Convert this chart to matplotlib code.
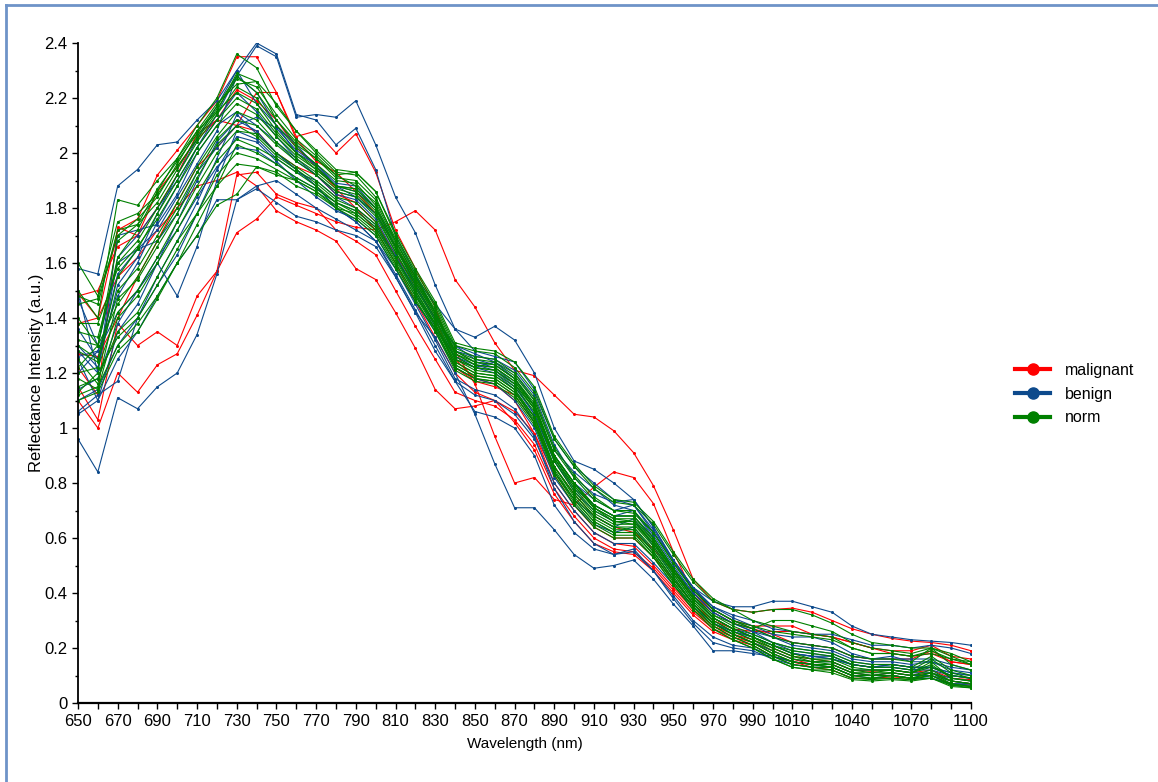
import matplotlib
matplotlib.use("Agg")
import matplotlib.pyplot as plt
from matplotlib.lines import Line2D

plt.rcParams['font.family'] = ['Liberation Sans', 'DejaVu Sans']

wavelength = [650, 660, 670, 680, 690, 700, 710, 720, 730, 740,
              750, 760, 770, 780, 790, 800, 810, 820, 830, 840,
              850, 860, 870, 880, 890, 900, 910, 920, 930, 940,
              950, 960, 970, 980, 990, 1000, 1010, 1020, 1030, 1040,
              1050, 1060, 1070, 1080, 1090, 1100]
x_labels = [650, 670, 690, 710, 730, 750, 770, 790, 810, 830, 850, 870,
            890, 910, 930, 950, 970, 990, 1010, 1040, 1070, 1100]
y_ticks = [0, 0.2, 0.4, 0.6, 0.8, 1.0, 1.2, 1.4, 1.6, 1.8, 2.0, 2.2, 2.4]

malignant = [
    [1.49, 1.40, 1.72, 1.76, 1.92, 2.01, 2.10, 2.19, 2.35, 2.35,
     2.22, 2.06, 2.08, 2.00, 2.07, 1.93, 1.72, 1.58, 1.44, 1.25,
     1.18, 1.16, 1.10, 0.98, 0.80, 0.70, 0.62, 0.58, 0.57, 0.50,
     0.42, 0.34, 0.28, 0.25, 0.23, 0.20, 0.17, 0.16, 0.15, 0.12,
     0.115, 0.12, 0.11, 0.12, 0.09, 0.085],
    [1.10, 1.00, 1.20, 1.13, 1.23, 1.27, 1.41, 1.57, 1.71, 1.76,
     1.84, 1.81, 1.78, 1.75, 1.73, 1.72, 1.75, 1.79, 1.72, 1.54,
     1.44, 1.31, 1.21, 1.19, 1.12, 1.05, 1.04, 0.99, 0.91, 0.79,
     0.63, 0.45, 0.37, 0.34, 0.33, 0.34, 0.345, 0.33, 0.30, 0.27,
     0.25, 0.235, 0.225, 0.22, 0.21, 0.19],
    [1.15, 1.03, 1.38, 1.30, 1.35, 1.30, 1.48, 1.57, 1.92, 1.93,
     1.85, 1.82, 1.80, 1.72, 1.68, 1.63, 1.50, 1.37, 1.25, 1.13,
     1.10, 1.08, 1.03, 0.94, 0.78, 0.68, 0.60, 0.56, 0.55, 0.49,
     0.41, 0.33, 0.27, 0.24, 0.22, 0.19, 0.16, 0.14, 0.14, 0.11,
     0.10, 0.11, 0.10, 0.11, 0.08, 0.07],
    [1.38, 1.40, 1.55, 1.62, 1.72, 1.80, 1.88, 1.90, 1.93, 1.88,
     1.79, 1.75, 1.72, 1.68, 1.58, 1.54, 1.42, 1.29, 1.14, 1.07,
     1.08, 1.10, 1.06, 0.98, 0.83, 0.72, 0.64, 0.60, 0.60, 0.53,
     0.45, 0.36, 0.30, 0.27, 0.26, 0.26, 0.26, 0.25, 0.24, 0.22,
     0.20, 0.18, 0.17, 0.18, 0.15, 0.14],
    [1.48, 1.50, 1.66, 1.70, 1.86, 1.95, 2.05, 2.12, 2.10, 2.22,
     2.22, 2.05, 1.97, 1.93, 1.86, 1.78, 1.66, 1.55, 1.42, 1.28,
     1.16, 0.97, 0.80, 0.82, 0.74, 0.72, 0.785, 0.84, 0.82, 0.725,
     0.55, 0.40, 0.34, 0.30, 0.28, 0.28, 0.28, 0.25, 0.24, 0.22,
     0.20, 0.19, 0.19, 0.21, 0.17, 0.16],
    [1.22, 1.12, 1.73, 1.70, 1.80, 1.92, 2.07, 2.12, 2.23, 2.19,
     2.12, 2.02, 1.95, 1.87, 1.80, 1.72, 1.60, 1.46, 1.33, 1.20,
     1.13, 1.10, 1.02, 0.92, 0.76, 0.66, 0.58, 0.55, 0.54, 0.48,
     0.40, 0.32, 0.26, 0.23, 0.21, 0.17, 0.15, 0.13, 0.12, 0.09,
     0.09, 0.095, 0.09, 0.10, 0.07, 0.065],
    [1.27, 1.26, 1.40, 1.55, 1.68, 1.82, 1.95, 2.02, 2.10, 2.08,
     2.00, 1.95, 1.92, 1.85, 1.82, 1.75, 1.63, 1.52, 1.40, 1.22,
     1.17, 1.15, 1.12, 1.02, 0.86, 0.76, 0.68, 0.64, 0.62, 0.56,
     0.48, 0.39, 0.33, 0.29, 0.27, 0.25, 0.22, 0.21, 0.20, 0.17,
     0.16, 0.16, 0.16, 0.19, 0.15, 0.14],
]

benign = [
    [1.30, 1.22, 1.52, 1.62, 1.78, 1.92, 2.05, 2.17, 2.30, 2.40,
     2.36, 2.14, 2.12, 2.03, 2.09, 1.94, 1.70, 1.56, 1.42, 1.28,
     1.24, 1.22, 1.16, 1.05, 0.88, 0.77, 0.70, 0.66, 0.66, 0.58,
     0.49, 0.40, 0.33, 0.29, 0.26, 0.22, 0.19, 0.18, 0.17, 0.14,
     0.13, 0.13, 0.12, 0.13, 0.10, 0.09],
    [1.26, 1.28, 1.48, 1.60, 1.75, 1.88, 2.02, 2.14, 2.28, 2.39,
     2.35, 2.13, 2.14, 2.13, 2.19, 2.03, 1.84, 1.71, 1.52, 1.36,
     1.33, 1.37, 1.32, 1.20, 1.00, 0.88, 0.85, 0.80, 0.74, 0.64,
     0.52, 0.42, 0.37, 0.35, 0.35, 0.37, 0.37, 0.35, 0.33, 0.28,
     0.25, 0.24, 0.23, 0.225, 0.22, 0.21],
    [1.58, 1.56, 1.88, 1.94, 2.03, 2.04, 2.12, 2.19, 2.30, 2.18,
     2.10, 2.00, 1.96, 1.88, 1.84, 1.78, 1.66, 1.52, 1.40, 1.30,
     1.27, 1.24, 1.18, 1.08, 0.90, 0.80, 0.74, 0.70, 0.72, 0.62,
     0.52, 0.42, 0.35, 0.32, 0.30, 0.27, 0.26, 0.25, 0.25, 0.23,
     0.21, 0.21, 0.20, 0.21, 0.20, 0.18],
    [0.96, 0.84, 1.11, 1.07, 1.15, 1.20, 1.34, 1.56, 1.83, 1.87,
     1.82, 1.77, 1.75, 1.72, 1.70, 1.66, 1.55, 1.42, 1.28, 1.17,
     1.12, 1.10, 1.05, 0.96, 0.80, 0.70, 0.62, 0.58, 0.58, 0.51,
     0.43, 0.35, 0.29, 0.26, 0.24, 0.21, 0.18, 0.17, 0.16, 0.14,
     0.13, 0.14, 0.13, 0.13, 0.11, 0.10],
    [1.10, 1.14, 1.30, 1.40, 1.55, 1.68, 1.82, 1.98, 2.14, 2.07,
     2.00, 1.94, 1.88, 1.80, 1.75, 1.68, 1.55, 1.42, 1.33, 1.20,
     1.05, 0.87, 0.71, 0.71, 0.63, 0.54, 0.49, 0.50, 0.52, 0.45,
     0.36, 0.28, 0.19, 0.19, 0.18, 0.17, 0.15, 0.14, 0.14, 0.11,
     0.10, 0.11, 0.10, 0.10, 0.08, 0.07],
    [1.20, 1.28, 1.42, 1.50, 1.60, 1.48, 1.66, 1.90, 2.08, 2.05,
     1.98, 1.93, 1.90, 1.84, 1.80, 1.74, 1.62, 1.49, 1.36, 1.26,
     1.22, 1.20, 1.14, 1.02, 0.84, 0.74, 0.68, 0.64, 0.67, 0.57,
     0.46, 0.36, 0.29, 0.25, 0.22, 0.19, 0.16, 0.15, 0.15, 0.12,
     0.12, 0.12, 0.11, 0.11, 0.09, 0.08],
    [1.05, 1.10, 1.25, 1.35, 1.48, 1.60, 1.70, 1.83, 1.83, 1.88,
     1.90, 1.85, 1.80, 1.76, 1.72, 1.68, 1.58, 1.46, 1.35, 1.22,
     1.18, 1.16, 1.10, 1.00, 0.82, 0.72, 0.65, 0.62, 0.64, 0.55,
     0.45, 0.36, 0.29, 0.26, 0.24, 0.21, 0.18, 0.17, 0.17, 0.14,
     0.13, 0.14, 0.13, 0.13, 0.10, 0.09],
    [1.28, 1.20, 1.62, 1.70, 1.80, 1.90, 2.02, 2.12, 2.22, 2.15,
     2.06, 1.98, 1.92, 1.85, 1.83, 1.76, 1.63, 1.50, 1.37, 1.26,
     1.23, 1.21, 1.15, 1.05, 0.88, 0.78, 0.72, 0.68, 0.70, 0.60,
     0.49, 0.39, 0.31, 0.27, 0.24, 0.21, 0.18, 0.17, 0.16, 0.14,
     0.13, 0.13, 0.12, 0.12, 0.10, 0.09],
    [1.14, 1.18, 1.38, 1.50, 1.62, 1.72, 1.84, 1.95, 2.02, 2.01,
     1.96, 1.91, 1.87, 1.82, 1.79, 1.73, 1.62, 1.51, 1.40, 1.30,
     1.25, 1.23, 1.18, 1.08, 0.90, 0.80, 0.72, 0.68, 0.68, 0.59,
     0.48, 0.38, 0.31, 0.27, 0.25, 0.22, 0.20, 0.19, 0.18, 0.15,
     0.14, 0.14, 0.13, 0.13, 0.11, 0.10],
    [1.47, 1.30, 1.60, 1.65, 1.72, 1.84, 1.96, 2.08, 2.28, 2.22,
     2.10, 2.03, 1.95, 1.88, 1.86, 1.80, 1.68, 1.55, 1.45, 1.36,
     1.28, 1.26, 1.24, 1.14, 0.96, 0.86, 0.80, 0.74, 0.72, 0.63,
     0.52, 0.41, 0.35, 0.31, 0.28, 0.25, 0.24, 0.24, 0.22, 0.18,
     0.16, 0.16, 0.16, 0.16, 0.14, 0.12],
    [1.06, 1.12, 1.17, 1.40, 1.52, 1.63, 1.78, 1.94, 2.06, 2.04,
     1.97, 1.90, 1.84, 1.79, 1.76, 1.70, 1.58, 1.45, 1.32, 1.18,
     1.14, 1.12, 1.07, 0.97, 0.78, 0.66, 0.58, 0.54, 0.55, 0.48,
     0.39, 0.30, 0.24, 0.21, 0.20, 0.17, 0.15, 0.14, 0.13, 0.10,
     0.10, 0.10, 0.09, 0.09, 0.07, 0.07],
    [1.50, 1.20, 1.70, 1.72, 1.74, 1.85, 2.00, 2.10, 2.15, 2.10,
     2.04, 1.97, 1.92, 1.86, 1.84, 1.78, 1.66, 1.53, 1.42, 1.25,
     1.22, 1.24, 1.20, 1.10, 0.92, 0.84, 0.78, 0.72, 0.70, 0.61,
     0.50, 0.40, 0.33, 0.29, 0.26, 0.24, 0.22, 0.21, 0.20, 0.17,
     0.16, 0.17, 0.15, 0.15, 0.13, 0.12],
    [1.25, 1.10, 1.35, 1.45, 1.60, 1.75, 1.90, 2.04, 2.12, 2.08,
     2.00, 1.94, 1.88, 1.80, 1.75, 1.68, 1.56, 1.43, 1.30, 1.17,
     1.06, 1.04, 1.00, 0.90, 0.72, 0.62, 0.56, 0.54, 0.56, 0.48,
     0.38, 0.29, 0.22, 0.20, 0.19, 0.16, 0.14, 0.13, 0.13, 0.10,
     0.09, 0.10, 0.09, 0.09, 0.07, 0.065],
    [1.36, 1.25, 1.56, 1.65, 1.68, 1.78, 1.93, 2.02, 2.10, 2.13,
     2.09, 2.01, 1.96, 1.89, 1.88, 1.80, 1.66, 1.52, 1.39, 1.28,
     1.26, 1.25, 1.21, 1.12, 0.94, 0.82, 0.76, 0.73, 0.74, 0.64,
     0.52, 0.42, 0.34, 0.30, 0.27, 0.24, 0.21, 0.20, 0.19, 0.16,
     0.15, 0.15, 0.14, 0.15, 0.12, 0.11],
]

norm = [
    [1.32, 1.30, 1.62, 1.72, 1.86, 1.98, 2.10, 2.20, 2.36, 2.31,
     2.17, 2.08, 2.00, 1.93, 1.92, 1.84, 1.68, 1.55, 1.42, 1.28,
     1.25, 1.24, 1.19, 1.10, 0.92, 0.82, 0.74, 0.70, 0.70, 0.62,
     0.51, 0.41, 0.34, 0.30, 0.28, 0.26, 0.25, 0.24, 0.23, 0.20,
     0.18, 0.18, 0.17, 0.19, 0.16, 0.15],
    [1.60, 1.48, 1.75, 1.78, 1.85, 1.95, 2.05, 2.15, 2.29, 2.26,
     2.12, 2.03, 1.98, 1.92, 1.93, 1.86, 1.70, 1.57, 1.45, 1.30,
     1.28, 1.27, 1.22, 1.13, 0.96, 0.86, 0.78, 0.73, 0.72, 0.65,
     0.54, 0.44, 0.37, 0.34, 0.33, 0.34, 0.34, 0.32, 0.29, 0.25,
     0.22, 0.21, 0.20, 0.20, 0.18, 0.15],
    [1.50, 1.40, 1.83, 1.81, 1.90, 1.98, 2.08, 2.15, 2.22, 2.18,
     2.08, 2.00, 1.95, 1.88, 1.87, 1.80, 1.66, 1.54, 1.42, 1.27,
     1.23, 1.22, 1.17, 1.08, 0.90, 0.80, 0.72, 0.68, 0.68, 0.60,
     0.49, 0.39, 0.32, 0.29, 0.27, 0.30, 0.30, 0.28, 0.26, 0.22,
     0.20, 0.19, 0.18, 0.20, 0.17, 0.14],
    [1.15, 1.18, 1.35, 1.42, 1.55, 1.68, 1.78, 1.88, 1.96, 1.95,
     1.92, 1.90, 1.86, 1.80, 1.78, 1.72, 1.60, 1.48, 1.38, 1.24,
     1.20, 1.19, 1.14, 1.04, 0.86, 0.76, 0.68, 0.64, 0.64, 0.56,
     0.46, 0.36, 0.29, 0.25, 0.22, 0.18, 0.15, 0.14, 0.13, 0.10,
     0.10, 0.10, 0.09, 0.10, 0.07, 0.06],
    [1.12, 1.15, 1.30, 1.38, 1.48, 1.60, 1.70, 1.81, 1.85, 1.95,
     1.93, 1.88, 1.85, 1.80, 1.76, 1.70, 1.58, 1.46, 1.36, 1.22,
     1.18, 1.17, 1.12, 1.02, 0.84, 0.74, 0.66, 0.62, 0.62, 0.54,
     0.44, 0.35, 0.28, 0.24, 0.21, 0.17, 0.14, 0.13, 0.12, 0.09,
     0.09, 0.09, 0.085, 0.09, 0.065, 0.055],
    [1.28, 1.24, 1.50, 1.58, 1.70, 1.82, 1.95, 2.06, 2.15, 2.12,
     2.04, 1.98, 1.93, 1.87, 1.85, 1.78, 1.64, 1.52, 1.40, 1.25,
     1.21, 1.20, 1.15, 1.06, 0.88, 0.77, 0.69, 0.65, 0.65, 0.57,
     0.47, 0.37, 0.30, 0.26, 0.23, 0.19, 0.16, 0.15, 0.14, 0.11,
     0.11, 0.11, 0.10, 0.11, 0.08, 0.07],
    [1.40, 1.30, 1.68, 1.74, 1.82, 1.94, 2.06, 2.16, 2.27, 2.24,
     2.14, 2.05, 1.99, 1.92, 1.88, 1.82, 1.68, 1.55, 1.43, 1.28,
     1.24, 1.23, 1.18, 1.09, 0.90, 0.80, 0.71, 0.67, 0.66, 0.59,
     0.48, 0.38, 0.31, 0.27, 0.24, 0.20, 0.17, 0.16, 0.15, 0.12,
     0.12, 0.12, 0.11, 0.14, 0.09, 0.08],
    [1.20, 1.22, 1.42, 1.50, 1.62, 1.75, 1.88, 2.00, 2.08, 2.07,
     2.00, 1.95, 1.90, 1.84, 1.82, 1.75, 1.62, 1.50, 1.38, 1.24,
     1.20, 1.19, 1.14, 1.04, 0.86, 0.75, 0.67, 0.63, 0.63, 0.55,
     0.45, 0.36, 0.29, 0.25, 0.22, 0.18, 0.15, 0.14, 0.14, 0.11,
     0.10, 0.11, 0.10, 0.12, 0.08, 0.07],
    [1.30, 1.25, 1.55, 1.65, 1.78, 1.90, 2.02, 2.12, 2.20, 2.16,
     2.07, 2.00, 1.94, 1.88, 1.86, 1.79, 1.65, 1.53, 1.41, 1.27,
     1.23, 1.22, 1.17, 1.07, 0.89, 0.78, 0.70, 0.66, 0.66, 0.58,
     0.47, 0.37, 0.30, 0.26, 0.23, 0.20, 0.17, 0.15, 0.15, 0.12,
     0.11, 0.12, 0.11, 0.15, 0.09, 0.08],
    [1.18, 1.14, 1.40, 1.48, 1.60, 1.72, 1.85, 1.97, 2.05, 2.02,
     1.98, 1.93, 1.88, 1.82, 1.79, 1.73, 1.61, 1.49, 1.37, 1.23,
     1.19, 1.18, 1.13, 1.03, 0.85, 0.74, 0.66, 0.62, 0.62, 0.54,
     0.44, 0.35, 0.28, 0.24, 0.21, 0.17, 0.14, 0.13, 0.13, 0.10,
     0.09, 0.10, 0.09, 0.11, 0.07, 0.06],
    [1.45, 1.47, 1.70, 1.76, 1.84, 1.96, 2.08, 2.18, 2.25, 2.26,
     2.18, 2.08, 2.01, 1.94, 1.93, 1.86, 1.71, 1.58, 1.46, 1.31,
     1.29, 1.28, 1.24, 1.15, 0.97, 0.87, 0.79, 0.74, 0.73, 0.66,
     0.55, 0.45, 0.38, 0.34, 0.30, 0.28, 0.26, 0.25, 0.24, 0.20,
     0.18, 0.18, 0.17, 0.18, 0.16, 0.14],
    [1.22, 1.30, 1.45, 1.55, 1.68, 1.80, 1.93, 2.05, 2.12, 2.10,
     2.03, 1.97, 1.92, 1.86, 1.84, 1.77, 1.64, 1.51, 1.39, 1.25,
     1.22, 1.21, 1.16, 1.07, 0.89, 0.79, 0.71, 0.66, 0.65, 0.58,
     0.48, 0.38, 0.31, 0.27, 0.24, 0.21, 0.18, 0.16, 0.16, 0.13,
     0.12, 0.12, 0.11, 0.13, 0.10, 0.09],
    [1.13, 1.20, 1.33, 1.40, 1.52, 1.65, 1.78, 1.92, 2.00, 1.98,
     1.94, 1.90, 1.86, 1.81, 1.77, 1.71, 1.59, 1.47, 1.35, 1.21,
     1.17, 1.16, 1.11, 1.01, 0.83, 0.72, 0.64, 0.60, 0.60, 0.53,
     0.43, 0.34, 0.27, 0.23, 0.20, 0.16, 0.13, 0.12, 0.12, 0.09,
     0.085, 0.09, 0.085, 0.10, 0.065, 0.06],
    [1.35, 1.33, 1.60, 1.68, 1.80, 1.92, 2.04, 2.14, 2.24, 2.20,
     2.10, 2.02, 1.96, 1.90, 1.89, 1.81, 1.67, 1.54, 1.42, 1.27,
     1.24, 1.23, 1.18, 1.08, 0.90, 0.80, 0.72, 0.68, 0.68, 0.60,
     0.49, 0.39, 0.32, 0.28, 0.25, 0.22, 0.20, 0.19, 0.18, 0.15,
     0.14, 0.14, 0.13, 0.17, 0.12, 0.10],
    [1.25, 1.16, 1.47, 1.54, 1.66, 1.78, 1.91, 2.03, 2.10, 2.06,
     1.99, 1.94, 1.89, 1.83, 1.80, 1.74, 1.62, 1.50, 1.38, 1.23,
     1.19, 1.18, 1.13, 1.04, 0.86, 0.76, 0.68, 0.64, 0.63, 0.55,
     0.45, 0.36, 0.29, 0.25, 0.22, 0.18, 0.15, 0.14, 0.13, 0.10,
     0.10, 0.10, 0.09, 0.11, 0.08, 0.07],
    [1.48, 1.45, 1.72, 1.74, 1.87, 1.97, 2.07, 2.17, 2.28, 2.22,
     2.12, 2.04, 1.98, 1.91, 1.90, 1.83, 1.69, 1.56, 1.44, 1.29,
     1.26, 1.25, 1.20, 1.11, 0.93, 0.83, 0.75, 0.70, 0.69, 0.62,
     0.51, 0.41, 0.34, 0.30, 0.27, 0.24, 0.22, 0.21, 0.20, 0.17,
     0.16, 0.16, 0.15, 0.20, 0.14, 0.12],
    [1.10, 1.13, 1.28, 1.35, 1.47, 1.60, 1.74, 1.88, 2.03, 2.00,
     1.96, 1.91, 1.87, 1.82, 1.78, 1.72, 1.60, 1.48, 1.36, 1.22,
     1.18, 1.17, 1.12, 1.02, 0.84, 0.73, 0.65, 0.61, 0.61, 0.53,
     0.43, 0.34, 0.27, 0.23, 0.20, 0.16, 0.13, 0.12, 0.11, 0.085,
     0.08, 0.085, 0.08, 0.09, 0.06, 0.055],
    [1.38, 1.38, 1.58, 1.66, 1.76, 1.88, 2.00, 2.10, 2.18, 2.14,
     2.06, 1.99, 1.94, 1.88, 1.87, 1.80, 1.66, 1.53, 1.41, 1.26,
     1.22, 1.21, 1.16, 1.07, 0.89, 0.79, 0.71, 0.67, 0.67, 0.59,
     0.48, 0.38, 0.31, 0.27, 0.24, 0.21, 0.19, 0.18, 0.17, 0.14,
     0.13, 0.13, 0.12, 0.16, 0.11, 0.09],
]

group_names = ['malignant', 'benign', 'norm']
group_colors = ['#ff0000', '#0d4a8c', '#008000']

fig = plt.figure(figsize=(11.58, 7.82), dpi=100)
ax = fig.add_axes([78 / 1158, 1 - 703 / 782, (971 - 78) / 1158, (703 - 43) / 782])

for spectra, color in zip([malignant, benign, norm], group_colors):
    for spec in spectra:
        ax.plot(wavelength, spec, color=color, lw=0.8, marker='o', ms=2.2,
                mew=0, solid_joinstyle='round')

ax.set_xlim(650, 1100)
ax.set_ylim(0, 2.4)
ax.set_xticks(wavelength)
ax.set_xticklabels([str(w) if w in x_labels else '' for w in wavelength])
ax.set_yticks(y_ticks)
ax.set_yticklabels(['%g' % v for v in y_ticks])
ax.set_yticks([v / 10 for v in range(1, 24, 2)], minor=True)
ax.tick_params(axis='both', which='major', direction='out', length=4,
               width=1, labelsize=12, colors='black')
ax.tick_params(axis='x', pad=4)
ax.tick_params(axis='y', which='minor', direction='out', length=2.5, width=1)

for side in ['top', 'right']:
    ax.spines[side].set_visible(False)
ax.spines['left'].set_linewidth(1.3)
ax.spines['bottom'].set_linewidth(1.6)

ax.set_xlabel('Wavelength (nm)', fontsize=11, labelpad=6)
ax.set_ylabel('Reflectance Intensity (a.u.)', fontsize=12, labelpad=0)

handles = [Line2D([], [], color=c, lw=3, marker='o', ms=8) for c in group_colors]
fig.legend(handles, group_names, loc='center left',
           bbox_to_anchor=(1015 / 1158, 1 - 394 / 782), frameon=False,
           fontsize=11.5, handlelength=2.2, handletextpad=0.9,
           labelspacing=0.55, borderpad=0, borderaxespad=0)

# outer frame (left and top edges visible in the reference)
frame_color = '#6e93c8'
fig.add_artist(Line2D([6 / 1158, 6 / 1158], [0, 1 - 5 / 782], color=frame_color,
                      lw=2, transform=fig.transFigure))
fig.add_artist(Line2D([6 / 1158, 1], [1 - 5 / 782, 1 - 5 / 782], color=frame_color,
                      lw=2, transform=fig.transFigure))

fig.savefig('out.png', dpi=100)
